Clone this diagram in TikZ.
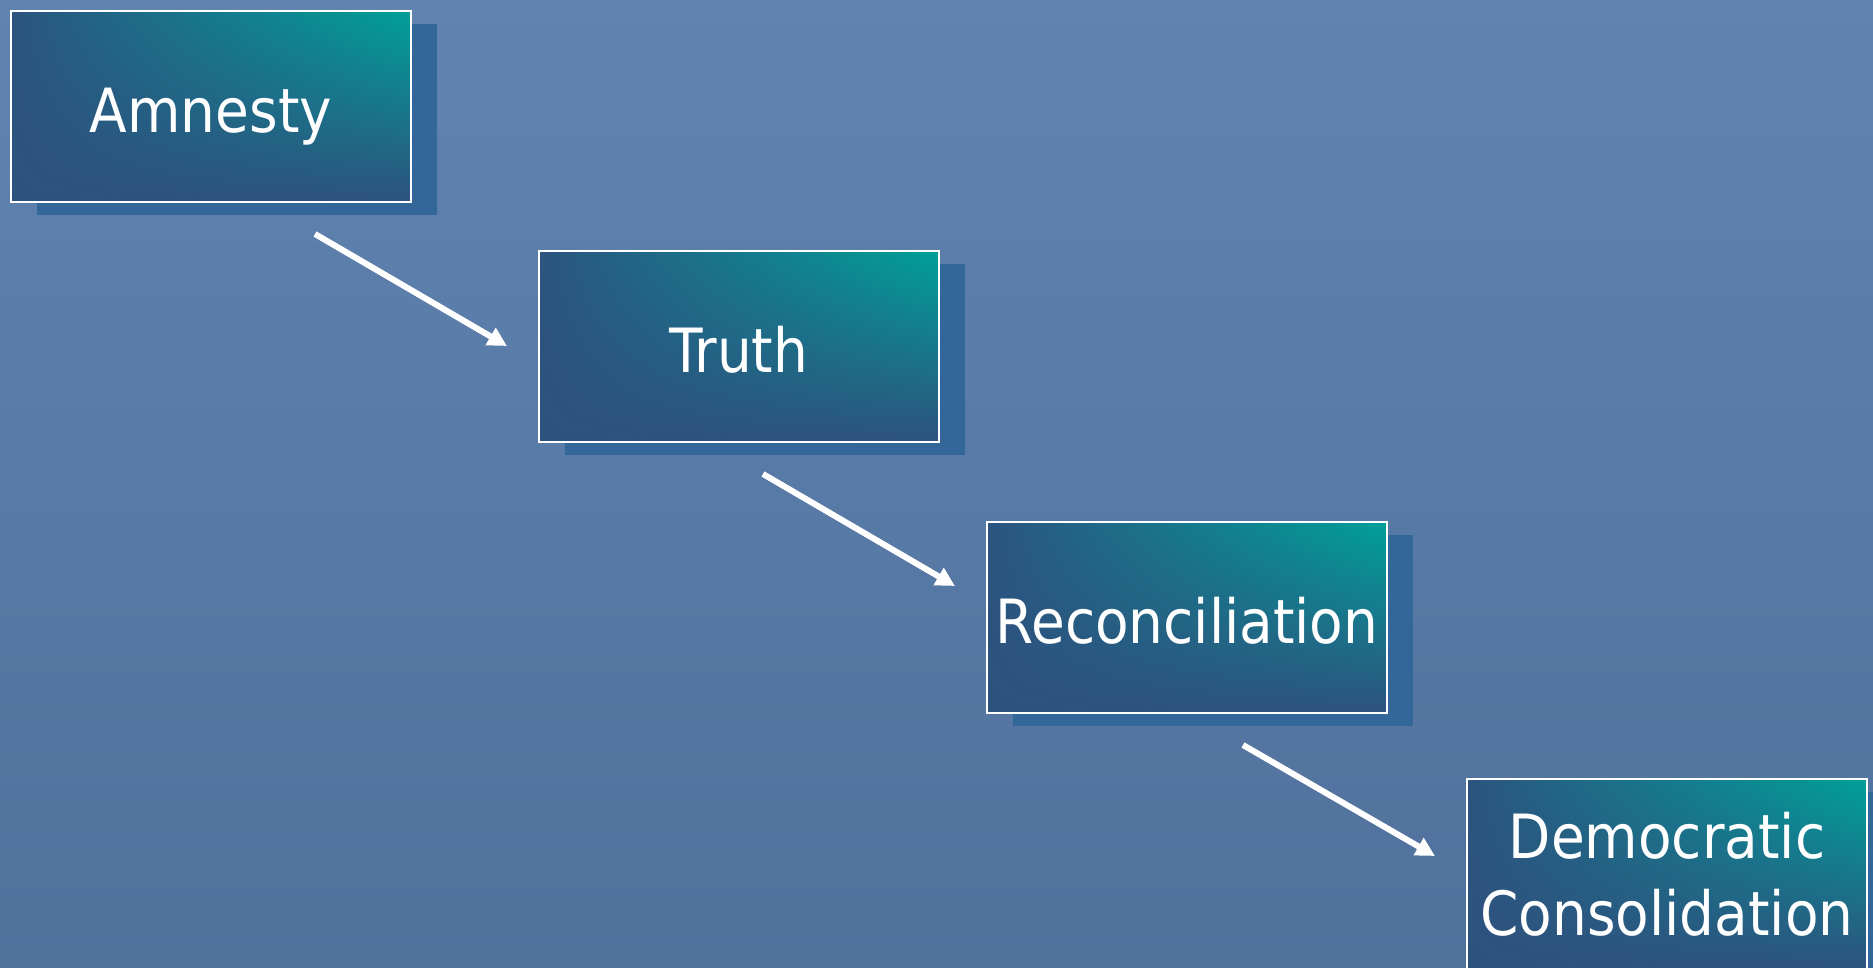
\documentclass[tikz,border=0pt]{standalone}
\usepackage{fontspec}
\setmainfont{DejaVu Sans Condensed}
\usetikzlibrary{arrows.meta,shadows,shadings}
\definecolor{bgtop}{RGB}{96,131,176}
\definecolor{bgbot}{RGB}{80,113,156}
\definecolor{boxdark}{RGB}{44,84,128}
\definecolor{boxdarkb}{RGB}{45,82,126}
\definecolor{boxteal}{RGB}{0,160,154}
\definecolor{shadowblue}{RGB}{51,102,153}
\tikzset{
  stagebox/.style={rectangle, draw=white, line width=2pt,
    minimum width=400pt, minimum height=191pt, inner sep=0pt,
    upper left=boxdark, upper right=boxteal, lower left=boxdarkb, lower right=boxdarkb,
    text=white, font=\fontsize{61}{77}\selectfont, align=center,
    general shadow={fill=shadowblue, draw=none, shadow xshift=26pt, shadow yshift=-13pt}},
  oneline/.style={text height=52pt, text depth=0pt},
  flowarrow/.style={draw=white, line width=6pt, -{Triangle[length=19pt,width=19pt]}}
}
\begin{document}
\begin{tikzpicture}[x=1pt,y=-1pt]
\useasboundingbox (0,0) rectangle (1873,967);
\shade[top color=bgtop, bottom color=bgbot] (0,0) rectangle (1873,967);
\node[stagebox, oneline] (amnesty) at (211,106) {Amnesty};
\node[stagebox, oneline] (truth) at (739,346) {Truth};
\node[stagebox, oneline] (recon) at (1187,617.5) {Reconciliation};
\node[stagebox] (demo) at (1667,874) {Democratic\\Consolidation};
\coordinate (a1s) at (315,234);
\coordinate (a1e) at (507,346);
\coordinate (a2s) at (763,474);
\coordinate (a2e) at (955,586);
\coordinate (a3s) at (1243,745);
\coordinate (a3e) at (1435,856);
\draw[flowarrow] (a1s) -- (a1e);
\draw[flowarrow] (a2s) -- (a2e);
\draw[flowarrow] (a3s) -- (a3e);
\end{tikzpicture}
\end{document}
